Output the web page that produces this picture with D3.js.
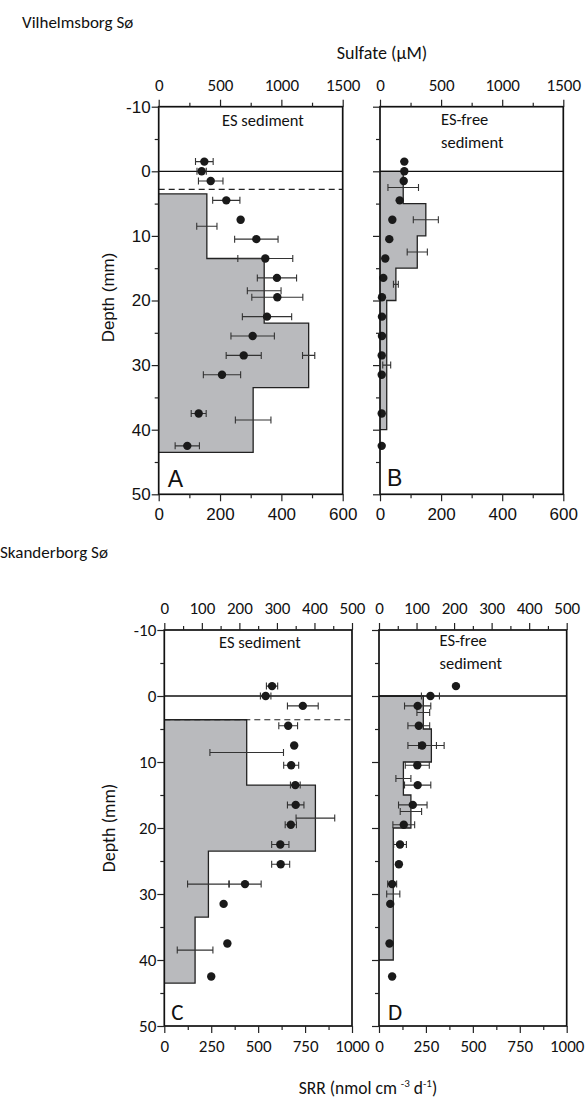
<!DOCTYPE html>
<html>
<head>
<meta charset="utf-8">
<script src="https://cdn.jsdelivr.net/npm/d3@7"></script>
<style>
body { margin: 0; background: #fff; }
</style>
</head>
<body>
<div id="chart"></div>
<script>
// sulfate sampling depths (mm), same in every core
var sulfDepth = [-1.5, 0, 1.5, 4.5, 7.5, 10.5, 13.5, 16.5, 19.5, 22.5, 25.5, 28.5, 31.5, 37.5, 42.5];

// Vilhelmsborg, ES sediment (A)
var sulfA    = [372, 350, 424, 551, 668, 796, 869, 964, 967, 883, 766, 693, 516, 326, 233];
var sulfAErr = [72, 38, 100, 111, 10, 177, 224, 160, 208, 201, 177, 143, 152, 61, 99];
var binTopA  = [3.5, 13.5, 23.5, 33.5];
var binBotA  = [13.5, 23.5, 33.5, 43.5];
var srrA     = [157, 344, 489, 308];
var srrAErr  = [33, 55, 20, 58];

// Vilhelmsborg, ES-free sediment (B)
var sulfB    = [199, 199, 194, 161, 101, 76, 43, 27, 16, 16, 16, 14, 14, 14, 14];
var sulfBErr = [0, 0, 0, 0, 0, 0, 0, 0, 0, 0, 0, 0, 0, 0, 0];
var binTopB  = [0, 5, 10, 15, 20];
var binBotB  = [5, 10, 15, 20, 40];
var srrB     = [76, 150, 122, 52, 22];
var srrBErr  = [50, 41, 33, 8, 13];

// Skanderborg, ES sediment (C)
var sulfC    = [287, 270, 369, 330, 346, 338, 349, 350, 337, 309, 310, 215, 158, 168, 125];
var sulfCErr = [15, 14, 41, 25, 0, 20, 13, 22, 15, 23, 24, 43, 0, 0, 0];
var binTopC  = [3.6, 13.5, 23.5, 33.5];
var binBotC  = [13.5, 23.5, 33.5, 43.5];
var srrC     = [439, 805, 235, 164];
var srrCErr  = [196, 103, 111, 95];

// Skanderborg, ES-free sediment (D)
var sulfD    = [205, 137, 103, 106, 115, 102, 103, 90, 66, 56, 53, 35, 30, 28, 35];
var sulfDErr = [0, 24, 35, 29, 38, 32, 35, 38, 29, 17, 0, 12, 0, 0, 0];
var binTopD  = [0, 5, 10, 15, 20];
var binBotD  = [5, 10, 15, 20, 40];
var srrD     = [236, 279, 130, 170, 76];
var srrDErr  = [34, 68, 40, 57, 35];

var depthTicks = [-10, 0, 10, 20, 30, 40, 50];
var depthMinor = [-5, 5, 15, 25, 35, 45];

var arial = "'Liberation Sans', Arial, sans-serif";
var calibri = "Carlito, Lato, sans-serif";

var svg = d3.select("#chart").append("svg")
    .attr("width", 585)
    .attr("height", 1100);

function drawPanel(o) {
    var x = d3.scaleLinear().domain([0, o.srrMax]).range([o.left, o.right]);
    var xs = d3.scaleLinear().domain([0, o.sulfMax]).range([o.left, o.right]);
    var y = d3.scaleLinear().domain([-10, 50]).range([o.top, o.bottom]);
    var g = svg.append("g");

    // step profile of SRR
    var pts = [[0, o.binTop[0]]];
    o.srr.forEach(function(v, i) {
        pts.push([v, o.binTop[i]]);
        pts.push([v, o.binBot[i]]);
    });
    pts.push([0, o.binBot[o.binBot.length - 1]]);
    var line = d3.line().x(function(d) { return x(d[0]); }).y(function(d) { return y(d[1]); });
    g.append("path").attr("d", line(pts) + "Z").attr("fill", "#b9babd");
    g.append("path").attr("d", line(pts))
        .attr("fill", "none").attr("stroke", "#222").attr("stroke-width", 1.3);

    // sediment surface and ES layer
    g.append("line")
        .attr("x1", o.left).attr("x2", o.right)
        .attr("y1", y(0)).attr("y2", y(0))
        .attr("stroke", "#111").attr("stroke-width", 1.3);
    if (o.dash != null) {
        g.append("line")
            .attr("x1", o.left).attr("x2", o.right)
            .attr("y1", y(o.dash)).attr("y2", y(o.dash))
            .attr("stroke", "#222").attr("stroke-width", 1.2)
            .attr("stroke-dasharray", "6,4");
    }

    function errBar(lo, hi, cy) {
        g.append("path")
            .attr("d", "M" + lo + "," + cy + "H" + hi +
                "M" + lo + "," + (cy - 3.5) + "V" + (cy + 3.5) +
                "M" + hi + "," + (cy - 3.5) + "V" + (cy + 3.5))
            .attr("fill", "none").attr("stroke", "#333").attr("stroke-width", 1.1);
    }

    // SRR error bars in the middle of each slice
    o.srr.forEach(function(v, i) {
        var mid = (o.binTop[i] + o.binBot[i]) / 2;
        errBar(x(v - o.srrErr[i]), x(v + o.srrErr[i]), y(mid));
    });

    // sulfate
    o.sulf.forEach(function(v, i) {
        if (o.sulfErr[i] > 0) errBar(xs(v - o.sulfErr[i]), xs(v + o.sulfErr[i]), y(sulfDepth[i]));
    });
    g.selectAll("circle.s").data(o.sulf).enter().append("circle")
        .attr("cx", function(d) { return xs(d); })
        .attr("cy", function(d, i) { return y(sulfDepth[i]); })
        .attr("r", 4.2)
        .attr("fill", "#1a1a1a");

    // frame
    g.append("rect")
        .attr("x", o.left).attr("y", o.top)
        .attr("width", o.right - o.left).attr("height", o.bottom - o.top)
        .attr("fill", "none").attr("stroke", "#111").attr("stroke-width", 1.7);

    // axes
    var top = g.append("g").attr("transform", "translate(0," + o.top + ")")
        .call(d3.axisTop(xs).tickValues(o.sulfTicks).tickSize(7).tickPadding(9).tickFormat(d3.format("d")));
    g.append("g").attr("transform", "translate(0," + o.top + ")")
        .call(d3.axisTop(xs).tickValues(o.sulfMinor).tickSize(4).tickFormat(""));
    var bottom = g.append("g").attr("transform", "translate(0," + o.bottom + ")")
        .call(d3.axisBottom(x).tickValues(o.srrTicks).tickSize(7).tickPadding(7).tickFormat(d3.format("d")));
    g.append("g").attr("transform", "translate(0," + o.bottom + ")")
        .call(d3.axisBottom(x).tickValues(o.srrMinor).tickSize(4).tickFormat(""));
    var left = g.append("g").attr("transform", "translate(" + o.left + ",0)")
        .call(d3.axisLeft(y).tickValues(depthTicks).tickSize(7).tickPadding(1)
            .tickFormat(o.leftLabels ? function(d) { return d < 0 ? "-" + Math.abs(d) : d; } : ""));
    g.append("g").attr("transform", "translate(" + o.left + ",0)")
        .call(d3.axisLeft(y).tickValues(depthMinor).tickSize(4).tickFormat(""));

    g.selectAll(".domain").remove();
    g.selectAll(".tick line").attr("stroke", "#222").attr("stroke-width", 1.2);
    top.selectAll("text").attr("font-family", calibri).attr("font-size", 17).attr("fill", "#111");
    bottom.selectAll("text").attr("font-family", o.numFont).attr("font-size", 17).attr("fill", "#111");
    left.selectAll("text").attr("font-family", o.numFont).attr("font-size", 17).attr("fill", "#111");

    // labels inside
    o.note.forEach(function(t, i) {
        g.append("text")
            .attr("x", o.noteX).attr("y", o.noteY + i * 22.5)
            .attr("text-anchor", o.noteAnchor)
            .attr("font-family", calibri).attr("font-size", 16.5).attr("fill", "#111")
            .text(t);
    });
    g.append("text")
        .attr("x", o.left + o.letterDx).attr("y", o.letterY)
        .attr("font-family", o.letterFont).attr("font-size", 23).attr("fill", "#111")
        .text(o.letter);
}

// Vilhelmsborg
drawPanel({ left: 158.7, right: 342.7, top: 106.7, bottom: 494.3,
    srrMax: 600, sulfMax: 1500,
    srrTicks: [0, 200, 400, 600], srrMinor: [100, 300, 500],
    sulfTicks: [0, 500, 1000, 1500], sulfMinor: [250, 750, 1250],
    binTop: binTopA, binBot: binBotA, srr: srrA, srrErr: srrAErr,
    sulf: sulfA, sulfErr: sulfAErr, dash: 2.8, leftLabels: true, numFont: arial,
    note: ["ES sediment"], noteX: 263, noteY: 126, noteAnchor: "middle",
    letter: "A", letterDx: 9, letterY: 487, letterFont: arial });
drawPanel({ left: 380, right: 563.3, top: 106.7, bottom: 494.3,
    srrMax: 600, sulfMax: 1500,
    srrTicks: [0, 200, 400, 600], srrMinor: [100, 300, 500],
    sulfTicks: [0, 500, 1000, 1500], sulfMinor: [250, 750, 1250],
    binTop: binTopB, binBot: binBotB, srr: srrB, srrErr: srrBErr,
    sulf: sulfB, sulfErr: sulfBErr, dash: null, leftLabels: false, numFont: arial,
    note: ["ES-free", "sediment"], noteX: 441, noteY: 125, noteAnchor: "start",
    letter: "B", letterDx: 7, letterY: 486, letterFont: arial });

// Skanderborg
drawPanel({ left: 164.3, right: 352, top: 630, bottom: 1026,
    srrMax: 1000, sulfMax: 500,
    srrTicks: [0, 250, 500, 750, 1000], srrMinor: [125, 375, 625, 875],
    sulfTicks: [0, 100, 200, 300, 400, 500], sulfMinor: [50, 150, 250, 350, 450],
    binTop: binTopC, binBot: binBotC, srr: srrC, srrErr: srrCErr,
    sulf: sulfC, sulfErr: sulfCErr, dash: 3.6, leftLabels: true, numFont: calibri,
    note: ["ES sediment"], noteX: 260, noteY: 648, noteAnchor: "middle",
    letter: "C", letterDx: 7, letterY: 1020, letterFont: calibri });
drawPanel({ left: 379, right: 566.7, top: 630, bottom: 1026,
    srrMax: 1000, sulfMax: 500,
    srrTicks: [0, 250, 500, 750, 1000], srrMinor: [125, 375, 625, 875],
    sulfTicks: [0, 100, 200, 300, 400, 500], sulfMinor: [50, 150, 250, 350, 450],
    binTop: binTopD, binBot: binBotD, srr: srrD, srrErr: srrDErr,
    sulf: sulfD, sulfErr: sulfDErr, dash: null, leftLabels: false, numFont: calibri,
    note: ["ES-free", "sediment"], noteX: 439.5, noteY: 646, noteAnchor: "start",
    letter: "D", letterDx: 9, letterY: 1020, letterFont: calibri });

// titles and axis names
svg.append("text").attr("x", 22).attr("y", 28)
    .attr("font-family", calibri).attr("font-size", 17).attr("fill", "#111")
    .text("Vilhelmsborg Sø");
svg.append("text").attr("x", 0).attr("y", 558)
    .attr("font-family", calibri).attr("font-size", 17).attr("fill", "#111")
    .text("Skanderborg Sø");
svg.append("text").attr("x", 382).attr("y", 59).attr("text-anchor", "middle")
    .attr("font-family", calibri).attr("font-size", 18).attr("fill", "#111")
    .text("Sulfate (µM)");

var srrLabel = svg.append("text").attr("x", 368).attr("y", 1094).attr("text-anchor", "middle")
    .attr("font-family", calibri).attr("font-size", 17.5).attr("fill", "#111");
srrLabel.append("tspan").text("SRR (nmol cm ");
srrLabel.append("tspan").attr("font-size", 11).attr("dy", -7).text("-3");
srrLabel.append("tspan").attr("dy", 7).text(" d");
srrLabel.append("tspan").attr("font-size", 11).attr("dy", -7).text("-1");
srrLabel.append("tspan").attr("dy", 7).text(")");

svg.append("text").attr("transform", "translate(114,297.5) rotate(-90)")
    .attr("text-anchor", "middle")
    .attr("font-family", arial).attr("font-size", 17).attr("fill", "#111")
    .text("Depth (mm)");
svg.append("text").attr("transform", "translate(115,828) rotate(-90)")
    .attr("text-anchor", "middle")
    .attr("font-family", calibri).attr("font-size", 18).attr("fill", "#111")
    .text("Depth (mm)");
</script>
</body>
</html>
